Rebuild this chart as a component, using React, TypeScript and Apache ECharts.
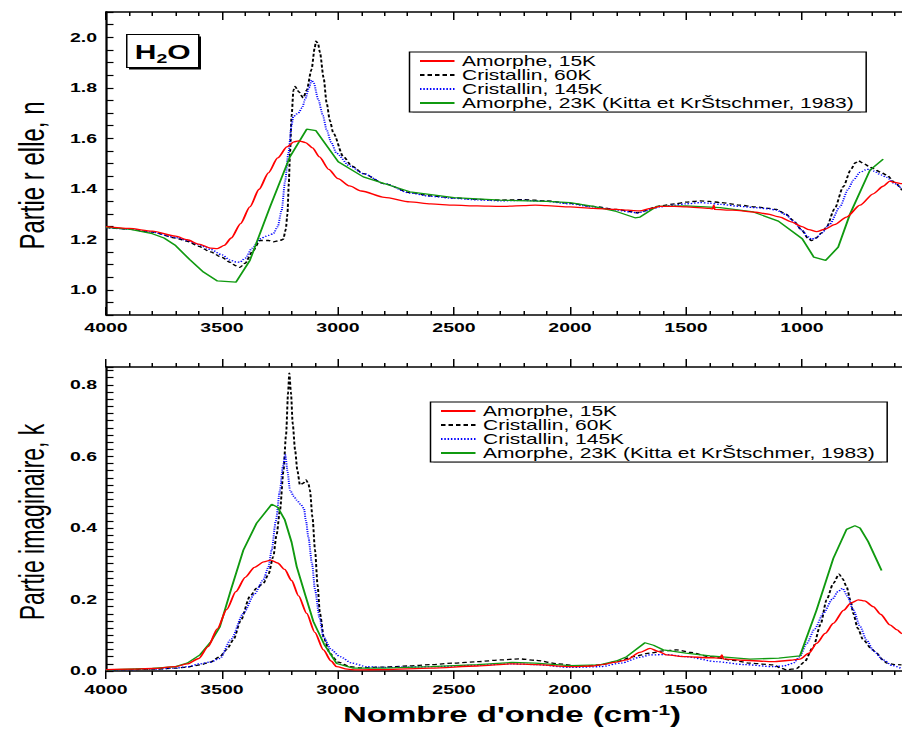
import React, { useEffect, useRef } from 'react';
import * as echarts from 'echarts';

const seriesNames = [
  'Amorphe, 15K',
  'Cristallin, 60K',
  'Cristallin, 145K',
  'Amorphe, 23K (Kitta et KrŠtschmer, 1983)',
];

const xLabelValues = [4000, 3500, 3000, 2500, 2000, 1500, 1000];
const nLabelValues = [1.0, 1.2, 1.4, 1.6, 1.8, 2.0];
const kLabelValues = [0.0, 0.2, 0.4, 0.6, 0.8];

// Partie réelle n  [wavenumber, n]
const nAmorphe15K: [number, number][] = [
  [4000, 1.25], [3900, 1.243], [3800, 1.232], [3700, 1.212], [3650, 1.198], [3600, 1.181], [3550, 1.165],
  [3520, 1.163], [3490, 1.176], [3460, 1.205], [3420, 1.262], [3380, 1.328], [3340, 1.398], [3300, 1.463],
  [3260, 1.522], [3220, 1.566], [3190, 1.586], [3170, 1.59], [3140, 1.583], [3110, 1.562], [3080, 1.526],
  [3040, 1.477], [3000, 1.44], [2950, 1.411], [2900, 1.391], [2800, 1.366], [2690, 1.348], [2600, 1.34],
  [2500, 1.335], [2400, 1.332], [2300, 1.33], [2200, 1.333], [2150, 1.335], [2100, 1.333], [2000, 1.328],
  [1900, 1.322], [1800, 1.318], [1750, 1.315], [1700, 1.312], [1650, 1.322], [1612, 1.33], [1550, 1.33],
  [1500, 1.328], [1400, 1.322], [1385, 1.32], [1380, 1.335], [1376, 1.318], [1300, 1.315], [1200, 1.307],
  [1150, 1.3], [1095, 1.288], [1050, 1.27], [1000, 1.25], [970, 1.238], [937, 1.23], [900, 1.24],
  [860, 1.258], [808, 1.288], [750, 1.335], [693, 1.38], [650, 1.41], [621, 1.43], [600, 1.425],
  [569, 1.42], [530, 1.418],
];
const nCristallin60K: [number, number][] = [
  [4000, 1.247], [3900, 1.24], [3800, 1.228], [3700, 1.205], [3650, 1.192], [3600, 1.172], [3550, 1.15],
  [3500, 1.128], [3466, 1.109], [3440, 1.095], [3423, 1.089], [3400, 1.105], [3370, 1.15], [3336, 1.195],
  [3300, 1.195], [3279, 1.19], [3250, 1.195], [3236, 1.2], [3225, 1.24], [3218, 1.3], [3212, 1.42],
  [3207, 1.54], [3200, 1.69], [3192, 1.79], [3185, 1.805], [3170, 1.785], [3150, 1.76], [3135, 1.79],
  [3114, 1.873], [3100, 1.96], [3095, 1.985], [3086, 1.975], [3078, 1.94], [3062, 1.84], [3049, 1.74],
  [3035, 1.67], [3020, 1.62], [2977, 1.527], [2940, 1.49], [2891, 1.46], [2800, 1.42], [2690, 1.385],
  [2600, 1.372], [2500, 1.364], [2400, 1.358], [2300, 1.355], [2200, 1.357], [2100, 1.352], [2000, 1.342],
  [1900, 1.33], [1800, 1.318], [1740, 1.31], [1710, 1.305], [1680, 1.312], [1640, 1.325], [1612, 1.332],
  [1550, 1.34], [1500, 1.347], [1440, 1.352], [1400, 1.35], [1350, 1.345], [1267, 1.335], [1200, 1.328],
  [1140, 1.322], [1110, 1.318], [1070, 1.3], [1038, 1.275], [1000, 1.235], [975, 1.205], [959, 1.195],
  [940, 1.205], [915, 1.225], [894, 1.248], [860, 1.32], [822, 1.408], [790, 1.475], [770, 1.503],
  [757, 1.511], [735, 1.5], [710, 1.488], [693, 1.48], [660, 1.465], [635, 1.454], [600, 1.425], [569, 1.394],
];
const nCristallin145K: [number, number][] = [
  [4000, 1.246], [3900, 1.24], [3800, 1.228], [3700, 1.207], [3650, 1.195], [3600, 1.178], [3550, 1.16],
  [3500, 1.138], [3466, 1.118], [3440, 1.11], [3423, 1.109], [3400, 1.125], [3370, 1.165], [3336, 1.202],
  [3300, 1.215], [3279, 1.222], [3260, 1.25], [3243, 1.315], [3228, 1.43], [3214, 1.54], [3200, 1.65],
  [3193, 1.686], [3171, 1.7], [3155, 1.72], [3142, 1.753], [3125, 1.8], [3114, 1.83], [3105, 1.82],
  [3085, 1.753], [3065, 1.69], [3049, 1.633], [3030, 1.585], [3006, 1.54], [2950, 1.49], [2891, 1.46],
  [2800, 1.42], [2690, 1.383], [2600, 1.37], [2500, 1.362], [2400, 1.356], [2300, 1.352], [2200, 1.354],
  [2100, 1.35], [2000, 1.34], [1900, 1.328], [1800, 1.316], [1740, 1.308], [1710, 1.304], [1680, 1.31],
  [1640, 1.322], [1612, 1.328], [1550, 1.335], [1500, 1.34], [1440, 1.345], [1400, 1.343], [1350, 1.338],
  [1267, 1.33], [1200, 1.325], [1140, 1.32], [1110, 1.315], [1070, 1.298], [1038, 1.272], [1000, 1.236],
  [975, 1.21], [959, 1.2], [940, 1.205], [915, 1.225], [880, 1.26], [837, 1.328], [800, 1.4], [779, 1.434],
  [750, 1.465], [720, 1.477], [708, 1.477], [690, 1.47], [660, 1.455], [635, 1.445], [600, 1.42], [569, 1.4],
];
const nAmorphe23K: [number, number][] = [
  [4000, 1.247], [3900, 1.24], [3800, 1.222], [3750, 1.205], [3700, 1.175], [3640, 1.12], [3580, 1.07],
  [3520, 1.035], [3440, 1.03], [3380, 1.116], [3293, 1.328], [3207, 1.527], [3135, 1.636], [3095, 1.63],
  [2999, 1.507], [2891, 1.447], [2690, 1.388], [2500, 1.365], [2300, 1.355], [2100, 1.35], [2000, 1.345],
  [1900, 1.33], [1800, 1.31], [1720, 1.285], [1698, 1.288], [1627, 1.33], [1500, 1.332], [1353, 1.325],
  [1210, 1.308], [1102, 1.272], [999, 1.202], [949, 1.129], [898, 1.116], [844, 1.169], [793, 1.3],
  [707, 1.474], [650, 1.517],
];

// Partie imaginaire k  [wavenumber, k]
const kAmorphe15K: [number, number][] = [
  [4000, 0.004], [3900, 0.005], [3800, 0.007], [3700, 0.012], [3650, 0.02], [3600, 0.035], [3560, 0.068],
  [3520, 0.118], [3480, 0.172], [3440, 0.222], [3400, 0.262], [3360, 0.29], [3320, 0.305], [3290, 0.31],
  [3260, 0.302], [3230, 0.284], [3200, 0.253], [3170, 0.21], [3135, 0.161], [3100, 0.108], [3063, 0.059],
  [3030, 0.028], [3006, 0.012], [2960, 0.005], [2920, 0.003], [2800, 0.004], [2600, 0.008], [2400, 0.014],
  [2250, 0.02], [2150, 0.018], [2000, 0.012], [1900, 0.014], [1871, 0.017], [1800, 0.025], [1756, 0.031],
  [1700, 0.052], [1655, 0.063], [1620, 0.055], [1584, 0.045], [1500, 0.04], [1400, 0.037], [1353, 0.036],
  [1345, 0.045], [1340, 0.034], [1250, 0.03], [1123, 0.026], [1050, 0.03], [1009, 0.033], [970, 0.05],
  [937, 0.077], [900, 0.105], [865, 0.133], [820, 0.17], [790, 0.19], [757, 0.199], [730, 0.196],
  [693, 0.18], [660, 0.158], [621, 0.129], [590, 0.115], [571, 0.105], [540, 0.098],
];
const kCristallin60K: [number, number][] = [
  [4000, 0.003], [3900, 0.004], [3800, 0.005], [3700, 0.008], [3650, 0.011], [3595, 0.017], [3550, 0.025],
  [3509, 0.04], [3480, 0.06], [3451, 0.087], [3420, 0.14], [3380, 0.208], [3350, 0.232], [3322, 0.245],
  [3300, 0.27], [3279, 0.32], [3265, 0.38], [3250, 0.45], [3235, 0.56], [3224, 0.66], [3215, 0.78],
  [3210, 0.833], [3203, 0.78], [3195, 0.69], [3185, 0.618], [3175, 0.56], [3164, 0.52], [3150, 0.525],
  [3138, 0.534], [3128, 0.525], [3121, 0.506], [3110, 0.43], [3099, 0.338], [3088, 0.24], [3078, 0.161],
  [3060, 0.09], [3035, 0.049], [3000, 0.025], [2949, 0.012], [2900, 0.009], [2800, 0.011], [2700, 0.014],
  [2600, 0.018], [2500, 0.022], [2400, 0.026], [2300, 0.031], [2220, 0.034], [2150, 0.03], [2050, 0.02],
  [1950, 0.013], [1871, 0.017], [1800, 0.026], [1727, 0.04], [1655, 0.05], [1600, 0.056], [1540, 0.059],
  [1480, 0.052], [1397, 0.04], [1300, 0.03], [1224, 0.022], [1123, 0.017], [1090, 0.008], [1066, 0.003],
  [1023, 0.007], [990, 0.025], [951, 0.068], [920, 0.13], [894, 0.199], [865, 0.245], [840, 0.271],
  [825, 0.258], [808, 0.236], [790, 0.195], [779, 0.161], [760, 0.12], [736, 0.087], [700, 0.062],
  [679, 0.05], [650, 0.03], [635, 0.022], [600, 0.018], [571, 0.017],
];
const kCristallin145K: [number, number][] = [
  [4000, 0.003], [3900, 0.004], [3800, 0.005], [3700, 0.008], [3650, 0.012], [3595, 0.02], [3550, 0.025],
  [3509, 0.035], [3460, 0.09], [3408, 0.161], [3360, 0.215], [3322, 0.255], [3300, 0.29], [3286, 0.338],
  [3268, 0.42], [3250, 0.506], [3238, 0.57], [3227, 0.604], [3218, 0.56], [3207, 0.506], [3190, 0.488],
  [3178, 0.478], [3160, 0.465], [3147, 0.455], [3138, 0.42], [3128, 0.376], [3112, 0.3], [3099, 0.227],
  [3080, 0.15], [3063, 0.096], [3030, 0.06], [2991, 0.04], [2940, 0.022], [2876, 0.012], [2800, 0.01],
  [2600, 0.012], [2400, 0.016], [2250, 0.02], [2150, 0.018], [2000, 0.01], [1871, 0.012], [1780, 0.022],
  [1700, 0.038], [1655, 0.045], [1584, 0.046], [1500, 0.04], [1368, 0.026], [1250, 0.018], [1123, 0.012],
  [1080, 0.014], [1037, 0.022], [1010, 0.04], [980, 0.077], [945, 0.118], [908, 0.161], [870, 0.2],
  [845, 0.222], [825, 0.231], [805, 0.21], [779, 0.171], [750, 0.125], [722, 0.087], [690, 0.055],
  [650, 0.031], [610, 0.015], [571, 0.007],
];
const kAmorphe23K: [number, number][] = [
  [4000, 0.003], [3900, 0.005], [3800, 0.007], [3700, 0.012], [3650, 0.022], [3595, 0.045], [3550, 0.08],
  [3509, 0.124], [3460, 0.23], [3408, 0.338], [3351, 0.413], [3286, 0.466], [3260, 0.458], [3229, 0.422],
  [3200, 0.36], [3178, 0.292], [3140, 0.21], [3106, 0.138], [3060, 0.075], [3006, 0.021], [2934, 0.008],
  [2800, 0.008], [2600, 0.012], [2400, 0.018], [2250, 0.024], [2150, 0.022], [2000, 0.015], [1871, 0.017],
  [1800, 0.028], [1756, 0.04], [1677, 0.079], [1640, 0.072], [1598, 0.059], [1500, 0.05], [1397, 0.042],
  [1224, 0.033], [1100, 0.036], [1009, 0.042], [937, 0.171], [865, 0.315], [808, 0.396], [772, 0.406],
  [750, 0.4], [715, 0.362], [657, 0.281],
];

const FONT = 'Liberation Sans, Arial, Helvetica, sans-serif';

const lineStyles = [
  { color: '#ff0000', type: 'solid' as any, smooth: 0.25 },
  { color: '#000000', type: [3, 2] as any, smooth: 0.25 },
  { color: '#0000ff', type: [1, 1.2] as any, smooth: 0.25 },
  { color: '#109a10', type: 'solid' as any, smooth: false },
];

function mkSeries(idx: number, data: [number, number][], xi: number, yi: number) {
  const st = lineStyles[idx];
  return {
    type: 'line',
    name: seriesNames[idx],
    xAxisIndex: xi,
    yAxisIndex: yi,
    data,
    symbol: 'none',
    showSymbol: false,
    smooth: st.smooth,
    smoothMonotone: 'x',
    lineStyle: { color: st.color, width: 1.3, type: st.type },
    itemStyle: { color: st.color },
    z: idx === 0 ? 4 : 3,
  };
}

function near(v: number, arr: number[]) {
  return arr.some((a) => Math.abs(a - v) < 1e-6);
}

function xAx(grid: number, pos: string, showLabels: boolean, inside: boolean, margin: number, extra: any = {}) {
  return {
    type: 'value',
    gridIndex: grid,
    position: pos,
    min: 500,
    max: 4000,
    inverse: true,
    interval: 500,
    axisLine: { show: true, onZero: false, lineStyle: { color: '#000', width: 1.5 } },
    axisTick: { show: true, inside, length: 8, lineStyle: { color: '#000', width: 1 } },
    minorTick: { show: true, splitNumber: 5, length: 4, lineStyle: { color: '#000', width: 1 } },
    axisLabel: {
      show: showLabels,
      margin,
      fontFamily: FONT,
      fontWeight: 'bold',
      fontSize: 13,
      color: '#000',
      formatter: (v: number) => (near(Math.round(v), xLabelValues) ? String(Math.round(v)) : ''),
    },
    splitLine: { show: false },
    ...extra,
  };
}

const LEG_W = 299;
const LEG_H = 57.2;

function legendAt(left: number, top: number) {
  return {
    data: seriesNames,
    orient: 'vertical',
    left,
    top,
    itemWidth: 23,
    itemHeight: 10,
    itemGap: 0,
    padding: [2, 8, 2, 6],
    backgroundColor: '#ffffff',
    borderColor: '#000',
    borderWidth: 1,
    selectedMode: false,
    itemStyle: { opacity: 0 },
    textStyle: { fontFamily: FONT, fontSize: 14, color: '#000', lineHeight: 13.3 },
  };
}

function legendShadow(left: number, top: number) {
  return {
    type: 'rect',
    left: left + 2,
    top: top + 3,
    z: 1,
    shape: { width: LEG_W, height: LEG_H },
    style: { fill: '#222' },
  };
}

const option: any = {
  animation: false,
  backgroundColor: '#ffffff',
  grid: [
    { left: 70.67, right: 8, top: 12, height: 303 },
    { left: 70.67, right: 8, top: 367, height: 304 },
  ],
  xAxis: [
    xAx(0, 'bottom', true, true, 6),
    xAx(0, 'top', false, true, 6),
    xAx(1, 'bottom', true, false, 12, {
      name: "Nombre d'onde (cm{sup|-1})",
      nameLocation: 'middle',
      nameGap: 32,
      nameTextStyle: {
        fontFamily: FONT,
        fontWeight: 'bold',
        fontSize: 22,
        color: '#000',
        rich: {
          sup: { fontFamily: FONT, fontWeight: 'bold', fontSize: 14, color: '#000', verticalAlign: 'top', padding: [0, 0, 10, 0] },
        },
      },
    }),
    xAx(1, 'top', false, false, 6),
  ],
  yAxis: [
    {
      type: 'value',
      gridIndex: 0,
      min: 0.9,
      max: 2.1,
      interval: 0.05,
      axisLine: { show: true, onZero: false, lineStyle: { color: '#000', width: 1.5 } },
      axisTick: { show: true, inside: true, length: 5, lineStyle: { color: '#000', width: 1.2 } },
      axisLabel: {
        margin: 6,
        fontFamily: FONT,
        fontWeight: 'bold',
        fontSize: 13,
        color: '#000',
        formatter: (v: number) => (near(v, nLabelValues) ? v.toFixed(1) : ''),
      },
      splitLine: { show: false },
      name: 'Partie r elle, n',
      nameLocation: 'middle',
      nameRotate: 90,
      nameGap: 38,
      nameTextStyle: { fontFamily: FONT, fontSize: 24, color: '#000', padding: [0, 24, 0, 0] },
    },
    {
      type: 'value',
      gridIndex: 1,
      min: 0,
      max: 0.85,
      interval: 0.02,
      axisLine: { show: true, onZero: false, lineStyle: { color: '#000', width: 1.5 } },
      axisTick: { show: true, inside: true, length: 5, lineStyle: { color: '#000', width: 1.2 } },
      axisLabel: {
        margin: 6,
        fontFamily: FONT,
        fontWeight: 'bold',
        fontSize: 13,
        color: '#000',
        formatter: (v: number) => (near(v, kLabelValues) ? v.toFixed(1) : ''),
      },
      splitLine: { show: false },
      name: 'Partie imaginaire, k',
      nameLocation: 'middle',
      nameRotate: 90,
      nameGap: 38,
      nameTextStyle: { fontFamily: FONT, fontSize: 23, color: '#000', padding: [0, 6, 0, 0] },
    },
  ],
  legend: [legendAt(273, 52), legendAt(287, 402)],
  graphic: [
    legendShadow(273, 52),
    legendShadow(287, 402),
    {
      type: 'group',
      left: 84,
      top: 34,
      children: [
        { type: 'rect', shape: { x: 1.5, y: 2, width: 48, height: 33 }, style: { fill: '#000' } },
        { type: 'rect', shape: { x: 0, y: 0, width: 48, height: 33 }, style: { fill: '#fff', stroke: '#000', lineWidth: 1 } },
        {
          type: 'text',
          x: 24,
          y: 17,
          style: {
            text: '{a|H}{b|2}{a|O}',
            align: 'center',
            verticalAlign: 'middle',
            rich: {
              a: { fontFamily: FONT, fontWeight: 'bold', fontSize: 20, fill: '#000' },
              b: { fontFamily: FONT, fontWeight: 'bold', fontSize: 13, fill: '#000', verticalAlign: 'bottom', padding: [14, 0, 0, 0] },
            },
          },
        },
      ],
    },
  ],
  series: [
    mkSeries(0, nAmorphe15K, 0, 0),
    mkSeries(1, nCristallin60K, 0, 0),
    mkSeries(2, nCristallin145K, 0, 0),
    mkSeries(3, nAmorphe23K, 0, 0),
    mkSeries(0, kAmorphe15K, 2, 1),
    mkSeries(1, kCristallin60K, 2, 1),
    mkSeries(2, kCristallin145K, 2, 1),
    mkSeries(3, kAmorphe23K, 2, 1),
  ],
};

export default function App() {
  const ref = useRef<HTMLDivElement>(null);
  useEffect(() => {
    const chart = echarts.init(ref.current as HTMLDivElement, null, { renderer: 'svg' });
    chart.setOption(option);
    return () => chart.dispose();
  }, []);
  return (
    <div
      style={{
        position: 'absolute',
        left: 0,
        top: 0,
        width: 902,
        height: 733,
        overflow: 'hidden',
        background: '#fff',
      }}
    >
      <div
        ref={ref}
        style={{ width: 620, height: 733, transform: 'scaleX(1.5)', transformOrigin: '0 0' }}
      />
    </div>
  );
}
